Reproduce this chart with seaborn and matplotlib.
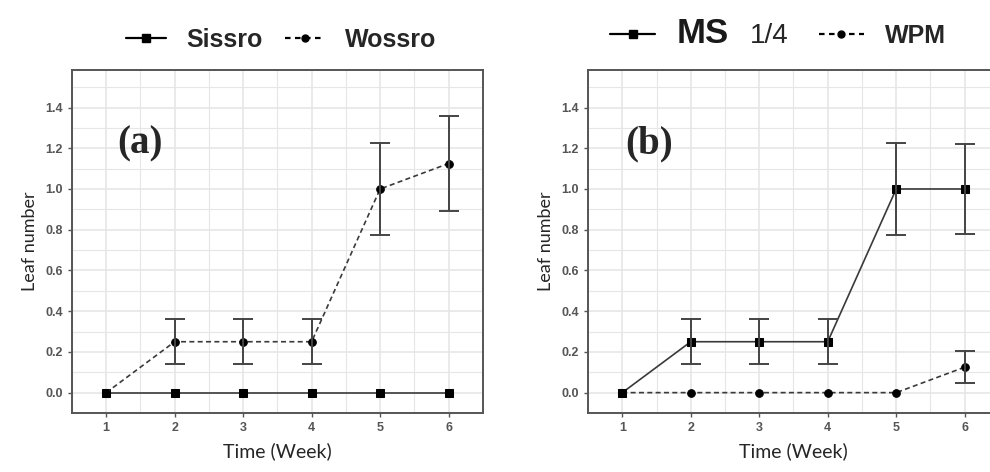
import pandas as pd
import numpy as np
import matplotlib
matplotlib.use('Agg')
import matplotlib.pyplot as plt
from matplotlib.lines import Line2D
import seaborn as sns

# données
weeks = [1, 2, 3, 4, 5, 6]

# (a)
sissro_mean = [0, 0, 0, 0, 0, 0]
sissro_se = [0, 0, 0, 0, 0, 0]
wossro_mean = [0, 0.25, 0.25, 0.25, 1.0, 1.125]
wossro_se = [0, 0.11, 0.11, 0.11, 0.225, 0.235]

# (b)
ms_mean = [0, 0.25, 0.25, 0.25, 1.0, 1.0]
ms_se = [0, 0.11, 0.11, 0.11, 0.225, 0.22]
wpm_mean = [0, 0, 0, 0, 0, 0.125]
wpm_se = [0, 0, 0, 0, 0, 0.078]

sns.set_style('white')
plt.rcParams['font.family'] = ['Liberation Sans', 'DejaVu Sans']

grid_c = '#e6e6e6'
line_c = '#3a3a3a'


def make_df(names, means, ses):
    dfs = []
    for name, m, s in zip(names, means, ses):
        d = pd.DataFrame({'week': weeks, 'leaf': m, 'se': s})
        d['trt'] = name
        dfs.append(d)
    return pd.concat(dfs, ignore_index=True)


def draw_panel(ax, df, solid, dashed, tag, tag_x):
    sns.lineplot(data=df, x='week', y='leaf', style='trt',
                 style_order=[solid, dashed],
                 markers={solid: 's', dashed: 'o'},
                 dashes={solid: '', dashed: (3, 2)},
                 color=line_c, markersize=5.5, linewidth=1.2,
                 markeredgecolor='black', markerfacecolor='black',
                 legend=False, ax=ax)
    err = df[df['se'] > 0]
    ax.errorbar(err['week'], err['leaf'], yerr=err['se'], fmt='none',
                ecolor='#444444', elinewidth=1.4, capsize=7, capthick=1.4)

    ax.set_xlim(0.54, 6.48)
    ax.set_ylim(-0.078, 1.585)
    ax.set_xticks(weeks)
    ax.set_yticks(np.arange(0, 1.41, 0.2))
    ax.set_yticklabels([f'{v:.1f}' for v in np.arange(0, 1.41, 0.2)])
    ax.set_xticks(np.arange(0.5, 6.6, 1.0), minor=True)
    ax.set_yticks(np.arange(-0.1, 1.6, 0.2), minor=True)
    ax.grid(True, which='major', color=grid_c, linewidth=1.2)
    ax.grid(True, which='minor', color=grid_c, linewidth=0.8)
    ax.set_axisbelow(True)
    for sp in ax.spines.values():
        sp.set_color('#555555')
        sp.set_linewidth(1.4)
    ax.tick_params(axis='both', which='major', length=3, width=1,
                   color='#555555', labelcolor='#555555', labelsize=9,
                   direction='out', bottom=True, left=True)
    ax.tick_params(axis='both', which='minor', length=0)
    for lab in ax.get_xticklabels() + ax.get_yticklabels():
        lab.set_fontweight('bold')
    ax.set_xlabel('Time (Week)', fontsize=14, family='Lato', labelpad=6)
    ax.set_ylabel('Leaf number', fontsize=13, family='Lato', labelpad=5)
    ax.text(tag_x, 1.22, tag, ha='center', va='center', fontsize=28,
            fontweight='bold', family='Liberation Serif')


def handles():
    h1 = Line2D([], [], color='black', linewidth=1.6, marker='s',
                markersize=6, markerfacecolor='black', markeredgecolor='black')
    h2 = Line2D([], [], color='black', linewidth=1.6, linestyle=(0, (2.5, 2)),
                marker='o', markersize=5, markerfacecolor='black',
                markeredgecolor='black')
    return [h1, h2]


fig = plt.figure(figsize=(9.9, 4.72), dpi=100)
ax1 = fig.add_axes([0.0727, 0.125, 0.415, 0.727])
ax2 = fig.add_axes([0.594, 0.125, 0.415, 0.727])

df_a = make_df(['Sissro', 'Wossro'], [sissro_mean, wossro_mean], [sissro_se, wossro_se])
df_b = make_df(['MS', 'WPM'], [ms_mean, wpm_mean], [ms_se, wpm_se])

draw_panel(ax1, df_a, 'Sissro', 'Wossro', '(a)', 1.5)
draw_panel(ax2, df_b, 'MS', 'WPM', '(b)', 1.39)

fig.legend(handles(), ['Sissro', 'Wossro'], loc='center',
           bbox_to_anchor=(0.284, 0.915), ncol=2, frameon=False,
           prop={'weight': 'bold', 'size': 18}, handlelength=1.6,
           handletextpad=0.8, columnspacing=0.9)

leg2 = fig.legend(handles(), ['MS', 'WPM'], loc='center',
                  bbox_to_anchor=(0.786, 0.93), ncol=2, frameon=False,
                  prop={'weight': 'bold', 'size': 18}, handlelength=1.8,
                  handletextpad=0.85, columnspacing=3.6)
leg2.get_texts()[0].set_fontsize(25)
leg2.get_texts()[0].set_color('#1a1a1a')
# "1/4" en police normale, à côté de "MS"
fig.text(750 / 990, 1 - 36 / 472, '1/4', fontsize=20, va='center', ha='left')

fig.savefig('out.png', dpi=100)
